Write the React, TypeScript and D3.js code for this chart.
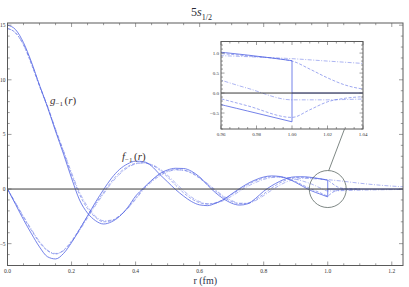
import React from 'react';
import * as d3 from 'd3';

// radius grid (fm) inside the nucleus
const rInner = [0, 0.025, 0.05, 0.075, 0.1, 0.125, 0.15, 0.175, 0.2, 0.225,
    0.25, 0.275, 0.3, 0.325, 0.35, 0.375, 0.4, 0.425, 0.45, 0.475,
    0.5, 0.525, 0.55, 0.575, 0.6, 0.625, 0.65, 0.675, 0.7, 0.725,
    0.75, 0.775, 0.8, 0.825, 0.85, 0.875, 0.9, 0.925, 0.95, 0.975, 1.0];

// g_{-1}(r) and f_{-1}(r), three variants each (solid, dashed, dot-dashed)
const gSolid = [15.0, 14.6, 13.4, 11.6, 9.5, 7.5, 5.3, 3.2, 1.0, -1.0,
    -2.2, -2.9, -3.2, -3.0, -2.5, -1.7, -0.65, 0.1, 0.8, 1.4,
    1.75, 1.9, 1.88, 1.62, 1.1, 0.35, -0.35, -0.9, -1.3, -1.47,
    -1.35, -0.85, -0.2, 0.3, 0.7, 1.0, 1.12, 1.12, 1.06, 0.95, 0.81];
const fSolid = [0, -1.4, -2.8, -4.1, -5.3, -6.2, -6.4, -5.9, -4.9, -3.7,
    -2.45, -1.2, -0.05, 1.0, 1.8, 2.3, 2.55, 2.5, 2.1, 1.35,
    0.65, -0.05, -0.65, -1.15, -1.45, -1.52, -1.3, -0.95, -0.45, 0.05,
    0.5, 0.85, 1.1, 1.2, 1.15, 0.95, 0.6, 0.2, -0.17, -0.45, -0.72];
const gDash = [14.7, 14.3, 13.2, 11.4, 9.4, 7.5, 5.4, 3.4, 1.3, -0.5,
    -1.8, -2.6, -3.0, -2.9, -2.45, -1.75, -0.85, 0.05, 0.75, 1.3,
    1.65, 1.78, 1.72, 1.45, 0.98, 0.4, -0.2, -0.75, -1.15, -1.35,
    -1.3, -0.95, -0.45, 0.1, 0.55, 0.88, 1.05, 1.08, 1.02, 0.93, 0.8];
const fDash = [0, -1.3, -2.6, -3.8, -4.9, -5.65, -5.95, -5.6, -4.75, -3.65,
    -2.5, -1.35, -0.3, 0.7, 1.5, 2.05, 2.35, 2.4, 2.2, 1.75,
    1.1, 0.35, -0.35, -0.9, -1.25, -1.38, -1.25, -0.95, -0.5, -0.05,
    0.4, 0.75, 1.0, 1.12, 1.1, 0.95, 0.68, 0.32, -0.02, -0.32, -0.61];
const gDot = [14.7, 14.3, 13.2, 11.5, 9.5, 7.6, 5.5, 3.5, 1.5, -0.3,
    -1.6, -2.5, -2.9, -2.85, -2.45, -1.8, -0.95, -0.05, 0.65, 1.2,
    1.58, 1.75, 1.72, 1.5, 1.05, 0.5, -0.1, -0.65, -1.05, -1.3,
    -1.3, -1.05, -0.6, -0.1, 0.35, 0.7, 0.9, 0.97, 0.95, 0.91, 0.86];
const fDot = [0, -1.25, -2.5, -3.7, -4.8, -5.6, -5.9, -5.65, -4.85, -3.8,
    -2.65, -1.5, -0.45, 0.55, 1.35, 1.95, 2.3, 2.4, 2.25, 1.85,
    1.25, 0.55, -0.15, -0.75, -1.15, -1.35, -1.3, -1.05, -0.65, -0.2,
    0.25, 0.6, 0.88, 1.05, 1.1, 1.05, 0.9, 0.7, 0.45, 0.12, -0.17];

// outside the nucleus
const rDashTail = [1.0, 1.01, 1.02, 1.03, 1.04, 1.06, 1.1];
const gDashTail = [0.8, 0.6, 0.38, 0.2, 0.1, 0.03, 0];
const fDashTail = [-0.61, -0.42, -0.22, -0.13, -0.09, -0.04, 0];
const rDotTail = [1.0, 1.02, 1.04, 1.08, 1.12, 1.16, 1.2, 1.235];
const gDotTail = [0.86, 0.8, 0.74, 0.6, 0.47, 0.36, 0.27, 0.21];
const fDotTail = [-0.17, -0.17, -0.15, -0.12, -0.09, -0.07, -0.05, -0.04];

const xTicks = [0, 0.2, 0.4, 0.6, 0.8, 1.0, 1.2];
const xTickLabels = ['0.0', '0.2', '0.4', '0.6', '0.8', '1.0', '1.2'];
const yTicks = [-5, 0, 5, 10, 15];
const yTickLabels = ['\u22125', '0', '5', '10', '15'];
const insetXTicks = [0.96, 0.98, 1.0, 1.02, 1.04];
const insetXLabels = ['0.96', '0.98', '1.00', '1.02', '1.04'];
const insetYTicks = [-0.5, 0, 0.5, 1.0];
const insetYLabels = ['\u22120.5', '0.0', '0.5', '1.0'];

const BLUE = '#5264e4';
const FRAME = '#5a5a5a';
const FONT = '"Liberation Serif", "DejaVu Serif", serif';

const frame = { left: 7.5, right: 403, top: 23, bottom: 265.5 };
const inset = { left: 221, right: 363, top: 41.5, bottom: 129 };

const styles = {
    solid: { strokeWidth: 0.85, dash: undefined, opacity: 0.95 },
    dash: { strokeWidth: 0.8, dash: '3 1.6', opacity: 0.7 },
    dot: { strokeWidth: 0.8, dash: '4 1.5 1 1.5', opacity: 0.6 },
};

const pairs = (rs, vs) => rs.map((r, i) => [r, vs[i]]);

const curves = [
    { key: 'gSolid', pts: pairs(rInner, gSolid), st: styles.solid },
    { key: 'fSolid', pts: pairs(rInner, fSolid), st: styles.solid },
    { key: 'gSolidOut', pts: [[1.0, gSolid[gSolid.length - 1]], [1.0, 0], [1.235, 0]], st: styles.solid, linear: true },
    { key: 'fSolidOut', pts: [[1.0, fSolid[fSolid.length - 1]], [1.0, 0]], st: styles.solid, linear: true },
    { key: 'gDash', pts: pairs(rInner.slice(0, -1), gDash).concat(pairs(rDashTail, gDashTail)), st: styles.dash },
    { key: 'fDash', pts: pairs(rInner.slice(0, -1), fDash).concat(pairs(rDashTail, fDashTail)), st: styles.dash },
    { key: 'gDot', pts: pairs(rInner.slice(0, -1), gDot).concat(pairs(rDotTail, gDotTail)), st: styles.dot },
    { key: 'fDot', pts: pairs(rInner.slice(0, -1), fDot).concat(pairs(rDotTail, fDotTail)), st: styles.dot },
];

const Curves = ({ sx, sy }) => {
    const smooth = d3.line().x(d => sx(d[0])).y(d => sy(d[1])).curve(d3.curveMonotoneX);
    const straight = d3.line().x(d => sx(d[0])).y(d => sy(d[1]));
    return (
        <g>
            {curves.map(c => (
                <path key={c.key} d={(c.linear ? straight : smooth)(c.pts)} fill="none" stroke={BLUE}
                    strokeWidth={c.st.strokeWidth} strokeDasharray={c.st.dash} strokeOpacity={c.st.opacity} />
            ))}
        </g>
    );
};

const FrameTicks = ({ sx, sy, box, xMinor, xMajor, yMinor, yMajor, majLen, minLen }) => {
    const out = [];
    xMinor.forEach((v, i) => {
        const len = xMajor.some(m => Math.abs(m - v) < 1e-6) ? majLen : minLen;
        const px = sx(v);
        out.push(<line key={'xb' + i} x1={px} x2={px} y1={box.bottom} y2={box.bottom - len} />);
        out.push(<line key={'xt' + i} x1={px} x2={px} y1={box.top} y2={box.top + len} />);
    });
    yMinor.forEach((v, i) => {
        const len = yMajor.some(m => Math.abs(m - v) < 1e-6) ? majLen : minLen;
        const py = sy(v);
        out.push(<line key={'yl' + i} x1={box.left} x2={box.left + len} y1={py} y2={py} />);
        out.push(<line key={'yr' + i} x1={box.right} x2={box.right - len} y1={py} y2={py} />);
    });
    return <g stroke={FRAME} strokeWidth={0.6}>{out}</g>;
};

export default function App() {
    const x = d3.scaleLinear().domain([0, 1.235]).range([frame.left, frame.right]);
    const y = d3.scaleLinear().domain([-7, 15.2]).range([frame.bottom, frame.top]);
    const xi = d3.scaleLinear().domain([0.96, 1.04]).range([inset.left, inset.right]);
    const yi = d3.scaleLinear().domain([-0.9, 1.29]).range([inset.bottom, inset.top]);

    const xMinor = d3.range(0, 1.2301, 0.05);
    const yMinor = d3.range(-7, 15.01, 1);
    const xiMinor = d3.range(0.96, 1.0401, 0.005);
    const yiMinor = d3.range(-0.9, 1.2901, 0.1);

    const cx = x(1.0), cy = y(0), cr = 18.5;

    return (
        <svg width={409} height={287} style={{ position: 'absolute', left: 0, top: 0, background: '#fff' }}
            fontFamily={FONT}>
            <defs>
                <clipPath id="mainClip">
                    <rect x={frame.left} y={frame.top} width={frame.right - frame.left} height={frame.bottom - frame.top} />
                </clipPath>
                <clipPath id="insetClip">
                    <rect x={inset.left} y={inset.top} width={inset.right - inset.left} height={inset.bottom - inset.top} />
                </clipPath>
            </defs>

            {/* title */}
            <text x={191} y={16} fontSize={12} fill="#2a2a35">
                5<tspan fontStyle="italic">s</tspan>
                <tspan fontSize={8} dy={3.5}>1/2</tspan>
            </text>

            {/* main plot */}
            <g clipPath="url(#mainClip)">
                <Curves sx={x} sy={y} />
            </g>
            <line x1={frame.left} x2={frame.right} y1={y(0)} y2={y(0)} stroke="#3a3a3a" strokeWidth={1} />
            <rect x={frame.left} y={frame.top} width={frame.right - frame.left} height={frame.bottom - frame.top}
                fill="none" stroke={FRAME} strokeWidth={1} />
            <FrameTicks sx={x} sy={y} box={frame} xMinor={xMinor} xMajor={xTicks} yMinor={yMinor} yMajor={yTicks}
                majLen={4} minLen={2.2} />
            <g fontSize={5.5} fill="#333">
                {xTicks.map((t, i) => (
                    <text key={t} x={x(t)} y={frame.bottom + 7} textAnchor="middle">{xTickLabels[i]}</text>
                ))}
                {yTicks.map((t, i) => (
                    <text key={t} x={frame.left - 2} y={y(t) + 2} textAnchor="end">{yTickLabels[i]}</text>
                ))}
            </g>

            {/* curve labels */}
            <text x={50} y={104} fontSize={11} fill="#3b3030">
                <tspan fontStyle="italic">g</tspan>
                <tspan fontSize={7} dy={2}>{'\u22121'}</tspan>
                <tspan dy={-2} dx={1.5}>(</tspan><tspan fontStyle="italic">r</tspan><tspan>)</tspan>
            </text>
            <text x={122} y={160} fontSize={11} fill="#3b3030">
                <tspan fontStyle="italic">f</tspan>
                <tspan fontSize={7} dy={2}>{'\u22121'}</tspan>
                <tspan dy={-2} dx={1.5}>(</tspan><tspan fontStyle="italic">r</tspan><tspan>)</tspan>
            </text>
            <text x={(frame.left + frame.right) / 2} y={284} fontSize={10} fill="#2d3148" textAnchor="middle">
                r (fm)
            </text>

            {/* magnifier */}
            <circle cx={cx} cy={cy} r={cr} fill="none" stroke="#5e6a66" strokeWidth={0.8} />
            <line x1={cx + 1} y1={cy - cr} x2={xi(1.03)} y2={inset.bottom - 2} stroke="#5e6a66" strokeWidth={0.8} />

            {/* inset */}
            <rect x={inset.left} y={inset.top} width={inset.right - inset.left} height={inset.bottom - inset.top}
                fill="#fff" />
            <g clipPath="url(#insetClip)">
                <Curves sx={xi} sy={yi} />
            </g>
            <line x1={inset.left} x2={inset.right} y1={yi(0)} y2={yi(0)} stroke="#3a3a3a" strokeWidth={1} />
            <rect x={inset.left} y={inset.top} width={inset.right - inset.left} height={inset.bottom - inset.top}
                fill="none" stroke={FRAME} strokeWidth={1} />
            <FrameTicks sx={xi} sy={yi} box={inset} xMinor={xiMinor} xMajor={insetXTicks} yMinor={yiMinor}
                yMajor={insetYTicks} majLen={3.5} minLen={2} />
            <g fontSize={5} fill="#333">
                {insetXTicks.map((t, i) => (
                    <text key={t} x={xi(t)} y={inset.bottom + 6.5} textAnchor="middle">{insetXLabels[i]}</text>
                ))}
                {insetYTicks.map((t, i) => (
                    <text key={t} x={inset.left - 2} y={yi(t) + 1.8} textAnchor="end">{insetYLabels[i]}</text>
                ))}
            </g>
        </svg>
    );
}
